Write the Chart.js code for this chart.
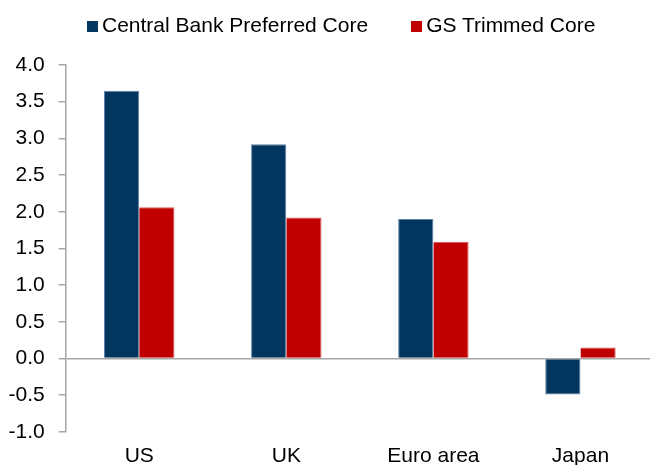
<!DOCTYPE html>
<html>
<head>
<meta charset="UTF-8">
<script src="https://cdn.jsdelivr.net/npm/chart.js"></script>
<title>Core inflation</title>
<style>
  html, body { margin: 0; padding: 0; overflow: hidden; background: #fff; }
  #wrap { position: relative; width: 654px; height: 481px; }
  #legenda { position: absolute; left: 87px; top: 13px; display: flex; align-items: baseline;
             font: 21px 'Liberation Sans', Arial, sans-serif; line-height: 24px; color: #000; white-space: nowrap; }
  #legenda .item { display: flex; align-items: baseline; }
  #legenda .item + .item { margin-left: 43px; }
  #legenda .caixa { display: inline-block; width: 11px; height: 11px; margin-right: 4px; }
</style>
</head>
<body>
<div id="wrap">
  <canvas id="grafico"></canvas>
  <div id="legenda"></div>
</div>
<script>
  // dados
  const categorias = ["US", "UK", "Euro area", "Japan"]
  const series = ["Central Bank Preferred Core", "GS Trimmed Core"]
  const bancoCentral = [3.65, 2.92, 1.90, -0.49]
  const gsTrimmed = [2.06, 1.92, 1.59, 0.15]
  const ticksY = [-1.0, -0.5, 0.0, 0.5, 1.0, 1.5, 2.0, 2.5, 3.0, 3.5, 4.0]
  const cores = ['#02365f', '#c00000']

  Chart.defaults.font.family = "'Liberation Sans', Arial, sans-serif"
  Chart.defaults.font.size = 21
  Chart.defaults.color = '#000'

  const cinza = '#a6a6a6'

  const grafico = new Chart(document.getElementById('grafico'), {
    type: 'bar',
    data: {
      labels: categorias,
      datasets: [
        { label: series[0], data: bancoCentral, backgroundColor: cores[0], borderColor: '#5f82a6', borderWidth: 1 },
        { label: series[1], data: gsTrimmed, backgroundColor: cores[1], borderColor: '#d85a5a', borderWidth: { top: 1, left: 0, right: 1, bottom: 0 } }
      ]
    },
    options: {
      responsive: true,
      maintainAspectRatio: false,
      animation: false,
      datasets: { bar: { categoryPercentage: 0.479, barPercentage: 1 } },
      layout: { padding: { left: -5.5, top: 65, right: 0, bottom: 0 } },
      plugins: {
        tooltip: { enabled: false },
        legend: { display: false }
      },
      scales: {
        x: {
          grid: { display: false, drawTicks: false },
          border: { display: false },
          ticks: { padding: 12 }
        },
        y: {
          min: -1,
          max: 4,
          afterBuildTicks: axis => { axis.ticks = ticksY.map(v => ({ value: v })) },
          border: { display: true, color: cinza, width: 1.5 },
          grid: {
            drawOnChartArea: true,
            color: c => (c.tick && c.tick.value === 0) ? cinza : 'rgba(0,0,0,0)',
            lineWidth: 1.5,
            tickColor: cinza,
            tickLength: 7
          },
          ticks: { padding: 14, callback: v => Number(v).toFixed(1) }
        }
      }
    }
  })

  // legenda em HTML, montada a partir dos datasets
  const legenda = document.getElementById('legenda')
  grafico.data.datasets.forEach(ds => {
    const item = document.createElement('div')
    item.className = 'item'
    const caixa = document.createElement('span')
    caixa.className = 'caixa'
    caixa.style.background = ds.backgroundColor
    const texto = document.createElement('span')
    texto.textContent = ds.label
    item.appendChild(caixa)
    item.appendChild(texto)
    legenda.appendChild(item)
  })
</script>
</body>
</html>
